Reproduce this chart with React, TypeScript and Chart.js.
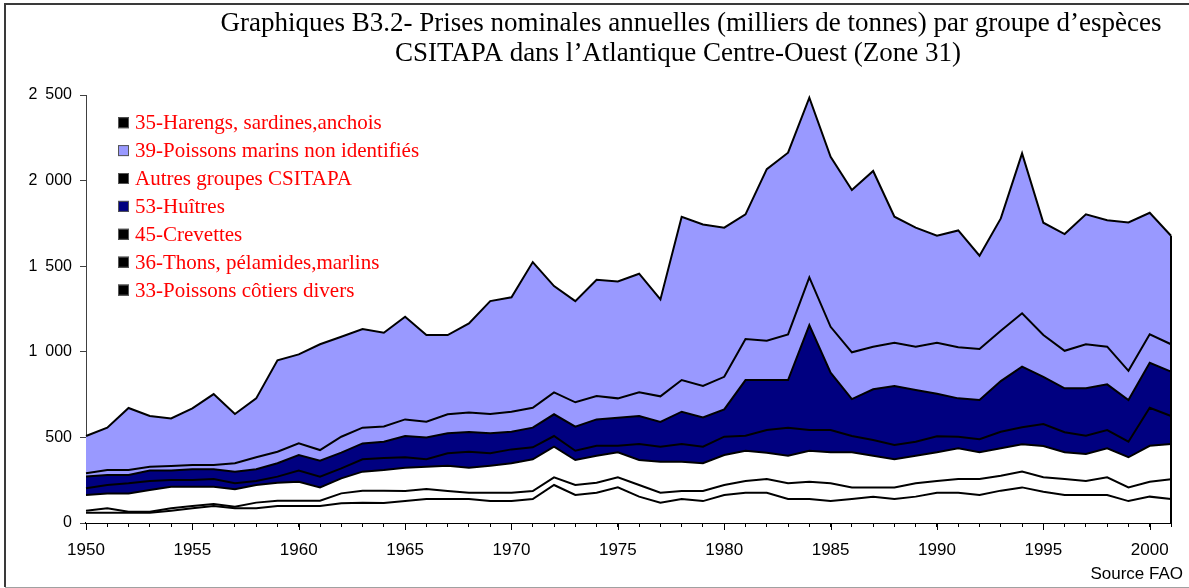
import React, { useEffect, useRef } from 'react';
import { Chart, registerables } from 'chart.js';

Chart.register(...registerables);

// ---------- DATA (milliers de tonnes) ----------
const years = [
  '1950', '1951', '1952', '1953', '1954', '1955', '1956', '1957', '1958', '1959',
  '1960', '1961', '1962', '1963', '1964', '1965', '1966', '1967', '1968', '1969',
  '1970', '1971', '1972', '1973', '1974', '1975', '1976', '1977', '1978', '1979',
  '1980', '1981', '1982', '1983', '1984', '1985', '1986', '1987', '1988', '1989',
  '1990', '1991', '1992', '1993', '1994', '1995', '1996', '1997', '1998', '1999',
  '2000', '2001',
];

const xTickLabels = ['1950', '1955', '1960', '1965', '1970', '1975', '1980', '1985', '1990', '1995', '2000'];
const yTickLabels = ['0', '500', '1\u2002000', '1\u2002500', '2\u2002000', '2\u2002500'];

// 33-Poissons côtiers divers
const cotiers = [
  60, 60, 60, 60, 72, 86, 99, 86, 86, 99,
  99, 99, 115, 119, 117, 128, 140, 140, 140, 128,
  128, 140, 222, 164, 177, 208, 154, 118, 140, 128,
  164, 177, 177, 140, 140, 128, 140, 154, 140, 154,
  177, 177, 164, 189, 208, 183, 164, 164, 164, 128,
  154, 140,
];
// 36-Thons, pélamides, marlins
const thons = [
  12, 26, 6, 6, 14, 13, 12, 9, 33, 31,
  31, 31, 58, 70, 71, 59, 59, 47, 37, 49,
  49, 47, 45, 58, 58, 59, 68, 59, 47, 59,
  58, 68, 80, 92, 101, 104, 68, 54, 68, 78,
  68, 80, 93, 87, 92, 84, 93, 81, 103, 80,
  87, 115,
];
// 45-Crevettes
const crevettes = [
  92, 87, 107, 127, 126, 113, 101, 102, 103, 105,
  111, 78, 88, 111, 122, 136, 130, 148, 146, 158,
  172, 185, 179, 146, 158, 146, 146, 181, 171, 162,
  175, 177, 154, 161, 181, 181, 205, 185, 164, 161,
  168, 179, 156, 160, 160, 183, 156, 158, 169, 176,
  210, 206,
];
// 53-Huîtres
const huitres = [
  39, 49, 59, 52, 39, 39, 45, 35, 23, 36,
  65, 63, 58, 72, 70, 61, 43, 72, 93, 72,
  81, 70, 62, 54, 58, 38, 93, 88, 103, 97,
  107, 88, 132, 164, 121, 130, 95, 92, 84, 82,
  94, 68, 76, 97, 99, 128, 117, 107, 107, 91,
  222, 164,
];
// Autres groupes CSITAPA
const autres = [
  68, 58, 48, 61, 55, 63, 57, 68, 69, 78,
  91, 93, 92, 93, 95, 124, 128, 117, 115, 117,
  103, 115, 127, 141, 154, 164, 164, 144, 189, 171,
  160, 325, 292, 278, 613, 335, 216, 296, 344, 302,
  248, 224, 229, 296, 354, 276, 257, 277, 267, 243,
  263, 259,
];
// 35-Harengs, sardines, anchois
const harengs = [
  19, 30, 30, 23, 27, 25, 25, 49, 70, 67,
  68, 62, 93, 92, 89, 97, 92, 111, 115, 113,
  117, 116, 128, 142, 137, 113, 138, 150, 185, 183,
  190, 240, 230, 267, 279, 268, 273, 249, 253, 253,
  298, 298, 298, 294, 312, 244, 219, 257, 220, 171,
  166, 160,
];
// 39-Poissons marins non identifiés
const nonIdentifies = [
  218, 247, 362, 296, 278, 331, 414, 288, 344, 534,
  520, 618, 584, 576, 547, 600, 506, 463, 520, 659,
  668, 851, 621, 591, 679, 683, 693, 566, 954, 944,
  871, 728, 1002, 1061, 1049, 993, 948, 1026, 736, 695,
  625, 683, 545, 656, 934, 656, 682, 759, 738, 867,
  710, 634,
];

const seriesLabels = [
  '33-Poissons côtiers divers',
  '36-Thons, pélamides,marlins',
  '45-Crevettes',
  '53-Huîtres',
  'Autres groupes CSITAPA',
  '35-Harengs, sardines,anchois',
  '39-Poissons marins non identifiés',
];
const seriesValues = [cotiers, thons, crevettes, huitres, autres, harengs, nonIdentifies];

const legendOrder = [
  '35-Harengs, sardines,anchois',
  '39-Poissons marins non identifiés',
  'Autres groupes CSITAPA',
  '53-Huîtres',
  '45-Crevettes',
  '36-Thons, pélamides,marlins',
  '33-Poissons côtiers divers',
];

const titleLines = [
  'Graphiques B3.2- Prises nominales annuelles (milliers de tonnes) par groupe d\u2019espèces',
  'CSITAPA dans l\u2019Atlantique Centre-Ouest (Zone 31)',
];
const sourceText = 'Source FAO';

// ---------- STYLES ----------
const WHITE = '#FFFFFF';
const NAVY = '#000080';
const LAVENDER = '#9999FF';
const fillColors = [WHITE, WHITE, WHITE, NAVY, NAVY, LAVENDER, LAVENDER];
const legendSwatch: Record<string, string> = {
  '35-Harengs, sardines,anchois': '#000000',
  '39-Poissons marins non identifiés': LAVENDER,
  'Autres groupes CSITAPA': '#000000',
  '53-Huîtres': NAVY,
  '45-Crevettes': '#000000',
  '36-Thons, pélamides,marlins': '#000000',
  '33-Poissons côtiers divers': '#000000',
};
const SERIF = "'Liberation Serif', 'Times New Roman', serif";
const SANS = "'Liberation Sans', Arial, sans-serif";

const decorPlugin = {
  id: 'decor',
  beforeDraw(chart: any) {
    const { ctx, width, height } = chart;
    ctx.save();
    ctx.fillStyle = '#FFFFFF';
    ctx.fillRect(0, 0, width, height);
    ctx.restore();
  },
  afterDraw(chart: any) {
    const { ctx, chartArea } = chart;
    const xScale = chart.scales.x;
    ctx.save();

    // frame
    ctx.strokeStyle = '#3a3a3a';
    ctx.lineWidth = 2;
    ctx.beginPath();
    ctx.moveTo(5, 587);
    ctx.lineTo(5, 4);
    ctx.lineTo(1189, 4);
    ctx.stroke();
    ctx.strokeStyle = '#a0a0a0';
    ctx.lineWidth = 1;
    ctx.beginPath();
    ctx.moveTo(5, 587.5);
    ctx.lineTo(1189, 587.5);
    ctx.stroke();

    // title
    ctx.fillStyle = '#000000';
    ctx.font = `27px ${SERIF}`;
    ctx.textAlign = 'center';
    ctx.textBaseline = 'alphabetic';
    ctx.fillText(titleLines[0], 691, 31);
    ctx.fillText(titleLines[1], 678, 61);

    // source
    ctx.font = `17px ${SANS}`;
    ctx.textAlign = 'right';
    ctx.fillText(sourceText, 1183, 579);

    // major x ticks (longer)
    ctx.strokeStyle = '#000000';
    ctx.lineWidth = 1;
    years.forEach((yr, i) => {
      if (xTickLabels.includes(yr)) {
        const x = Math.round(xScale.getPixelForValue(i)) + 0.5;
        ctx.beginPath();
        ctx.moveTo(x, chartArea.bottom);
        ctx.lineTo(x, chartArea.bottom + 7);
        ctx.stroke();
      }
    });

    // right closing edge of the stacked area
    const topMeta = chart.getDatasetMeta(seriesValues.length - 1);
    const lastPt = topMeta.data[topMeta.data.length - 1];
    ctx.lineWidth = 2;
    ctx.beginPath();
    ctx.moveTo(lastPt.x, lastPt.y);
    ctx.lineTo(lastPt.x, chartArea.bottom);
    ctx.stroke();

    // legend
    legendOrder.forEach((label, i) => {
      const cy = 122.7 + i * 27.9;
      ctx.fillStyle = legendSwatch[label];
      ctx.fillRect(118, cy - 5.5, 11, 11);
      ctx.strokeStyle = '#555555';
      ctx.lineWidth = 1;
      ctx.strokeRect(118.5, cy - 5, 10, 10);
      ctx.fillStyle = '#FF0000';
      ctx.font = `21px ${SERIF}`;
      ctx.textAlign = 'left';
      ctx.textBaseline = 'middle';
      ctx.fillText(label, 135, cy + 1);
    });
    ctx.restore();
  },
};

export default function App() {
  const canvasRef = useRef<HTMLCanvasElement | null>(null);

  useEffect(() => {
    if (!canvasRef.current) return;
    const datasets = seriesLabels.map((label, i) => ({
      label,
      data: seriesValues[i],
      backgroundColor: fillColors[i],
      borderColor: '#000000',
      borderWidth: 2,
      pointRadius: 0,
      tension: 0,
      fill: i === 0 ? 'origin' : '-1',
    }));

    const chart = new Chart(canvasRef.current, {
      type: 'line',
      data: { labels: years, datasets: datasets as any },
      plugins: [decorPlugin],
      options: {
        animation: false,
        responsive: true,
        maintainAspectRatio: false,
        layout: { padding: { top: 95, right: 18, left: 0, bottom: 0 } },
        plugins: {
          legend: { display: false },
          title: { display: false },
          tooltip: { enabled: false },
        },
        scales: {
          x: {
            type: 'category',
            offset: false,
            z: 1,
            grid: { drawOnChartArea: false, drawTicks: true, tickLength: 4, color: '#000000', lineWidth: 1 },
            border: { color: '#000000', width: 2 },
            ticks: {
              autoSkip: false,
              maxRotation: 0,
              minRotation: 0,
              padding: 13,
              color: '#000000',
              font: { family: SANS, size: 17 },
              callback: (_v: any, i: number) => (xTickLabels.includes(years[i]) ? years[i] : ''),
            },
            afterFit: (s: any) => { s.height = 65; },
          },
          y: {
            stacked: true,
            min: 0,
            max: 2500,
            z: 1,
            grid: { drawOnChartArea: false, drawTicks: true, tickLength: 6, color: '#404040', lineWidth: 1 },
            border: { color: '#404040', width: 1 },
            ticks: {
              stepSize: 500,
              padding: 8,
              color: '#000000',
              font: { family: SANS, size: 16 },
              callback: (_v: any, i: number) => yTickLabels[i],
            },
            afterFit: (s: any) => { s.width = 86; },
          },
        },
      } as any,
    });
    return () => chart.destroy();
  }, []);

  return (
    <div style={{ position: 'absolute', left: 0, top: 0, width: 1189, height: 588 }}>
      <canvas ref={canvasRef} />
    </div>
  );
}
